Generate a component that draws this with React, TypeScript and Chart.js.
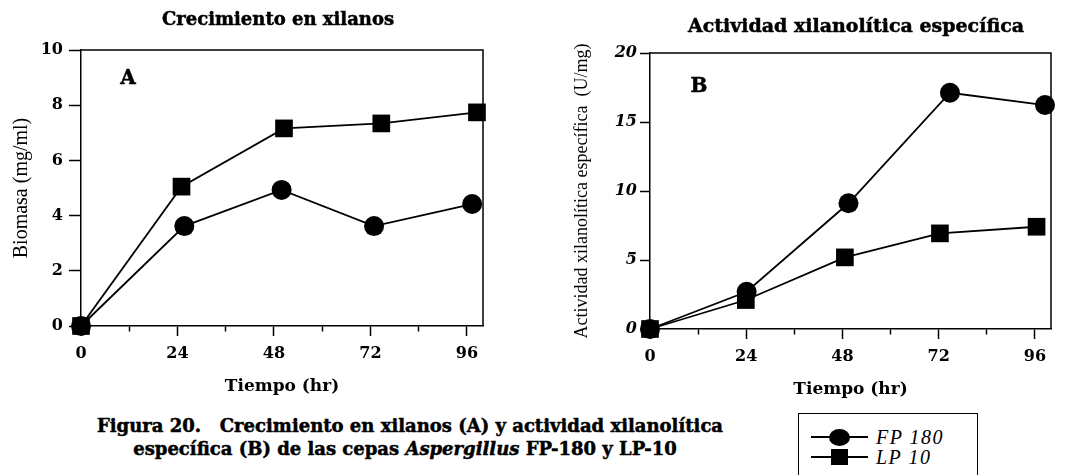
import React, { useEffect, useRef } from "react";
import { Chart, registerables } from "chart.js";

Chart.register(...registerables);

// ---- data ----
const seriesNames = ["FP 180", "LP 10"];
// Panel A: Biomasa (mg/ml)
const timeA_FP = [0, 25.7, 49.9, 72.9, 97.3];
const biomasaFP = [0, 3.62, 4.93, 3.62, 4.42];
const timeA_LP = [0, 25.0, 50.5, 74.7, 98.5];
const biomasaLP = [0, 5.05, 7.16, 7.34, 7.74];
// Panel B: Actividad xilanolítica específica (U/mg)
const timeB_FP = [0, 24.1, 49.5, 74.8, 98.5];
const actividadFP = [0, 2.7, 9.11, 17.12, 16.23];
const timeB_LP = [0, 23.9, 48.6, 72.3, 96.4];
const actividadLP = [0, 2.1, 5.19, 6.93, 7.41];
// ticks
const xMajorTicks = [0, 24, 48, 72, 96];
const xMinorTicks = [12, 36, 60, 84];
const yTicksA = [0, 2, 4, 6, 8, 10];
const yTicksB = [0, 5, 10, 15, 20];

const HEAVY = "'DejaVu Serif', serif";
const TIMES = "'Liberation Serif', 'Times New Roman', serif";

const framePlugin = {
  id: "frame",
  beforeDatasetsDraw(chart: any) {
    const { ctx, chartArea } = chart;
    const { left, right, top, bottom } = chartArea;
    ctx.save();
    ctx.strokeStyle = "#000";
    ctx.lineWidth = 1.5;
    ctx.beginPath();
    ctx.moveTo(left, top);
    ctx.lineTo(right, top);
    ctx.lineTo(right, bottom);
    ctx.stroke();
    ctx.restore();
  },
};

function pts(xs: number[], ys: number[]) {
  return xs.map((x, i) => ({ x, y: ys[i] }));
}

type PanelCfg = {
  xsFP: number[];
  ysFP: number[];
  xsLP: number[];
  ysLP: number[];
  yTicks: number[];
  yMax: number;
  yTitle: string;
  yTitleSize: number;
  yTitlePad: number;
  yWidth: number;
  yTickLen: number;
  yTickPad: number;
  yItalic: boolean;
  padTop: number;
  padRight: number;
  xHeight: number;
  xTitlePadBottom: number;
};

function makeConfig(p: PanelCfg): any {
  const ds = (label: string, data: any[], style: string, radius: number) => ({
    label,
    data,
    borderColor: "#000",
    backgroundColor: "#000",
    borderWidth: 1.8,
    pointStyle: style,
    pointRadius: radius,
    pointBorderWidth: 0,
    pointBackgroundColor: "#000",
    tension: 0,
    clip: false,
  });
  return {
    type: "line",
    data: {
      datasets: [
        ds(seriesNames[0], pts(p.xsFP, p.ysFP), "circle", 10),
        ds(seriesNames[1], pts(p.xsLP, p.ysLP), "rect", 12.5),
      ],
    },
    options: {
      animation: false,
      responsive: false,
      maintainAspectRatio: false,
      devicePixelRatio: 1,
      layout: { padding: { top: p.padTop, right: p.padRight, left: 0, bottom: 0 } },
      plugins: {
        legend: { display: false },
        tooltip: { enabled: false },
        title: { display: false },
      },
      scales: {
        x: {
          type: "linear",
          min: 0,
          max: 100,
          afterFit: (s: any) => {
            s.height = p.xHeight;
          },
          afterBuildTicks: (s: any) => {
            s.ticks = [...xMajorTicks, ...xMinorTicks]
              .sort((a, b) => a - b)
              .map((v) => ({ value: v }));
          },
          border: { display: true, color: "#000", width: 1.5 },
          grid: {
            display: true,
            drawOnChartArea: false,
            drawTicks: true,
            tickLength: 10,
            color: "#000",
            tickWidth: 1.5,
            tickBorderDash: (ctx: any) =>
              ctx.tick && xMajorTicks.includes(ctx.tick.value) ? [] : [5, 100],
          },
          ticks: {
            autoSkip: false,
            maxRotation: 0,
            padding: 8,
            color: "#000",
            font: { family: HEAVY, weight: "bold", size: 16 },
            callback: (v: any) => (xMajorTicks.includes(v) ? String(v) : ""),
          },
          title: {
            display: true,
            text: "Tiempo (hr)",
            color: "#000",
            font: { family: HEAVY, weight: "bold", size: 17 },
            padding: { top: 0, bottom: p.xTitlePadBottom },
          },
        },
        y: {
          type: "linear",
          min: 0,
          max: p.yMax,
          afterFit: (s: any) => {
            s.width = p.yWidth;
          },
          afterBuildTicks: (s: any) => {
            s.ticks = p.yTicks.map((v) => ({ value: v }));
          },
          border: { display: true, color: "#000", width: 1.5 },
          grid: {
            display: true,
            drawOnChartArea: false,
            drawTicks: true,
            tickLength: p.yTickLen,
            color: "#000",
            tickWidth: 1.5,
          },
          ticks: {
            padding: p.yTickPad,
            color: "#000",
            font: {
              family: HEAVY,
              weight: "bold",
              size: 16,
              style: p.yItalic ? "italic" : "normal",
            },
          },
          title: {
            display: true,
            text: p.yTitle,
            color: "#000",
            font: { family: TIMES, size: p.yTitleSize },
            padding: { top: p.yTitlePad, bottom: 0 },
          },
        },
      },
    },
    plugins: [framePlugin],
  };
}

function Panel({ left, cfg }: { left: number; cfg: PanelCfg }) {
  const ref = useRef<HTMLCanvasElement | null>(null);
  useEffect(() => {
    if (!ref.current) return;
    const chart = new Chart(ref.current, makeConfig(cfg));
    return () => chart.destroy();
  }, []);
  return (
    <canvas
      ref={ref}
      width={533}
      height={400}
      style={{ position: "absolute", left, top: 0, width: 533, height: 400 }}
    />
  );
}

const abs = (x: number, y: number, extra: any = {}): any => ({
  position: "absolute",
  left: x,
  top: y,
  transform: "translate(-50%, -50%)",
  whiteSpace: "pre",
  lineHeight: 1,
  color: "#000",
  ...extra,
});

export default function App() {
  const cfgA: PanelCfg = {
    xsFP: timeA_FP,
    ysFP: biomasaFP,
    xsLP: timeA_LP,
    ysLP: biomasaLP,
    yTicks: yTicksA,
    yMax: 10,
    yTitle: "Biomasa (mg/ml)",
    yTitleSize: 20,
    yTitlePad: 10,
    yWidth: 81,
    yTickLen: 12,
    yTickPad: 6,
    yItalic: false,
    padTop: 50,
    padRight: 50,
    xHeight: 74,
    xTitlePadBottom: 3,
  };
  const cfgB: PanelCfg = {
    xsFP: timeB_FP,
    ysFP: actividadFP,
    xsLP: timeB_LP,
    ysLP: actividadLP,
    yTicks: yTicksB,
    yMax: 20,
    yTitle: "Actividad xilanolítica específica  (U/mg)",
    yTitleSize: 18,
    yTitlePad: 38,
    yWidth: 117,
    yTickLen: 10,
    yTickPad: 3,
    yItalic: true,
    padTop: 53,
    padRight: 15,
    xHeight: 71,
    xTitlePadBottom: 0,
  };
  const heavy = { fontFamily: HEAVY, fontWeight: "bold", WebkitTextStroke: "0.5px #000" };
  return (
    <div
      style={{
        position: "absolute",
        left: 0,
        top: 0,
        width: 1066,
        height: 475,
        overflow: "hidden",
        background: "#fff",
      }}
    >
      <Panel left={0} cfg={cfgA} />
      <Panel left={533} cfg={cfgB} />

      <div style={abs(278, 19, { ...heavy, fontSize: 18 })}>Crecimiento en xilanos</div>
      <div style={abs(856, 25, { ...heavy, fontSize: 19 })}>
        Actividad xilanolítica específica
      </div>
      <div style={abs(128, 77, { ...heavy, fontSize: 20 })}>A</div>
      <div style={abs(699, 85, { ...heavy, fontSize: 20 })}>B</div>

      <div style={abs(410, 426, { ...heavy, fontSize: 18 })}>
        {"Figura 20.   Crecimiento en xilanos (A) y actividad xilanolítica"}
      </div>
      <div style={abs(405, 449, { ...heavy, fontSize: 18 })}>
        específica (B) de las cepas <i>Aspergillus</i> FP-180 y LP-10
      </div>

      {/* legend */}
      <div
        style={{
          position: "absolute",
          left: 798,
          top: 413,
          width: 180,
          height: 80,
          border: "1.5px solid #000",
          boxSizing: "border-box",
        }}
      />
      <div style={{ position: "absolute", left: 811, top: 436, width: 57, height: 2, background: "#000" }} />
      <div
        style={{
          position: "absolute",
          left: 829,
          top: 428.5,
          width: 21,
          height: 17,
          borderRadius: "50%",
          background: "#000",
        }}
      />
      <div style={abs(876, 437, { fontFamily: TIMES, fontStyle: "italic", fontSize: 20, letterSpacing: 1.5, transform: "translate(0, -50%)" })}>
        {seriesNames[0]}
      </div>
      <div style={{ position: "absolute", left: 811, top: 456, width: 57, height: 2, background: "#000" }} />
      <div
        style={{ position: "absolute", left: 831, top: 449, width: 17, height: 16, background: "#000" }}
      />
      <div style={abs(876, 457, { fontFamily: TIMES, fontStyle: "italic", fontSize: 20, letterSpacing: 1.5, transform: "translate(0, -50%)" })}>
        {seriesNames[1]}
      </div>
    </div>
  );
}
